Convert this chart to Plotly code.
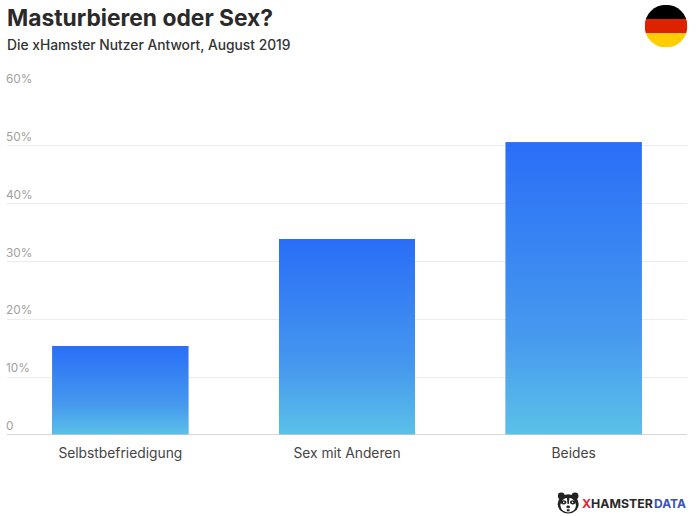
import base64
import plotly.graph_objects as go

categories = ["Selbstbefriedigung", "Sex mit Anderen", "Beides"]
values = [15.4, 33.9, 50.6]
tick_values = [0, 10, 20, 30, 40, 50, 60]
tick_labels = ["0", "10%", "20%", "30%", "40%", "50%", "60%"]
title = "Masturbieren oder Sex?"
subtitle = "Die xHamster Nutzer Antwort, August 2019"

W, H = 696, 516
L, R, T, B = 6.5, 8.5, 87.5, 80.5
FONT = "Inter, 'Open Sans', sans-serif"
BAR_W = 0.6
TOP_C, BOTTOM_C = "#2a6ef8", "#5bc1e8"

fig = go.Figure()
fig.add_trace(go.Bar(x=list(range(len(categories))), y=values, width=BAR_W,
                     marker=dict(color=TOP_C, line_width=0),
                     hoverinfo="skip", showlegend=False))
# vertical gradient painted over each bar
for i, v in enumerate(values):
    fig.add_trace(go.Scatter(
        x=[i - BAR_W / 2, i + BAR_W / 2, i + BAR_W / 2, i - BAR_W / 2, i - BAR_W / 2],
        y=[0, 0, v, v, 0], mode="lines", line=dict(width=0), fill="toself",
        fillgradient=dict(type="vertical",
                          colorscale=[[0, BOTTOM_C], [0.35, "#4598ee"], [1, TOP_C]]),
        hoverinfo="skip", showlegend=False))

fig.update_xaxes(range=[-0.5, 2.5], tickmode="array",
                 tickvals=list(range(len(categories))), ticktext=categories,
                 tickfont=dict(family=FONT, size=13.8, color="#444444"),
                 ticks="", ticklen=0, ticklabelstandoff=8, showgrid=False,
                 zeroline=False, showline=False)
fig.update_yaxes(range=[0, 60], tickmode="array", tickvals=tick_values,
                 showticklabels=False, ticks="", showgrid=True,
                 gridcolor="#ececec", gridwidth=1, zeroline=False)

for tv, tl in zip(tick_values, tick_labels):
    fig.add_annotation(xref="paper", yref="y", x=0, y=tv, text=tl, showarrow=False,
                       xanchor="left", yanchor="bottom", yshift=0, xshift=-3,
                       font=dict(family=FONT, size=11.8, color="#a0a0a0"))

fig.add_shape(type="line", xref="paper", yref="y", x0=0, x1=1, y0=0, y1=0,
              line=dict(color="#c9c9c9", width=1.5), layer="above")

def px(x): return (x - L) / (W - L - R)
def py(y): return 1 - (y - T) / (H - T - B)

fig.add_annotation(xref="paper", yref="paper", x=px(4), y=py(17), text=f"<b>{title}</b>",
                   showarrow=False, xanchor="left", yanchor="middle",
                   font=dict(family=FONT, size=22.8, color="#2a2a2a"))
fig.add_annotation(xref="paper", yref="paper", x=px(4), y=py(44), text=subtitle,
                   showarrow=False, xanchor="left", yanchor="middle",
                   font=dict(family=FONT, size=13.8, color="#333333", weight=500))

flag = ('<svg xmlns="http://www.w3.org/2000/svg" viewBox="0 0 100 100">'
        '<defs><clipPath id="c"><circle cx="50" cy="50" r="50"/></clipPath></defs>'
        '<g clip-path="url(#c)"><rect width="100" height="33.4" fill="#000"/>'
        '<rect y="33.3" width="100" height="33.4" fill="#dd2200"/>'
        '<rect y="66.6" width="100" height="33.4" fill="#ffce00"/></g></svg>')
logo = ('<svg xmlns="http://www.w3.org/2000/svg" viewBox="0 0 100 100">'
        '<circle cx="20" cy="20" r="15" fill="#222"/><circle cx="80" cy="20" r="15" fill="#222"/>'
        '<ellipse cx="50" cy="55" rx="46" ry="42" fill="#222"/>'
        '<ellipse cx="50" cy="60" rx="34" ry="32" fill="#fff"/>'
        '<path d="M44 22 L56 22 L53 55 L47 55 Z" fill="#222"/>'
        '<ellipse cx="30" cy="48" rx="12" ry="9" fill="#222"/>'
        '<ellipse cx="70" cy="48" rx="12" ry="9" fill="#222"/>'
        '<circle cx="31" cy="48" r="3.5" fill="#fff"/><circle cx="69" cy="48" r="3.5" fill="#fff"/>'
        '<ellipse cx="50" cy="68" rx="8" ry="6" fill="#222"/>'
        '<rect x="44" y="78" width="12" height="9" fill="#222"/></svg>')

def uri(s): return "data:image/svg+xml;base64," + base64.b64encode(s.encode()).decode()

fig.add_layout_image(source=uri(flag), xref="paper", yref="paper", x=px(645), y=py(4),
                     sizex=43 / (W - L - R), sizey=43 / (H - T - B),
                     xanchor="left", yanchor="top", layer="above")
fig.add_layout_image(source=uri(logo), xref="paper", yref="paper", x=px(557), y=py(492),
                     sizex=23 / (W - L - R), sizey=23 / (H - T - B),
                     xanchor="left", yanchor="top", layer="above")
fig.add_annotation(xref="paper", yref="paper", x=px(580), y=py(504),
                   text='<b><span style="color:#e0283c">X</span>HAMSTER</b>',
                   showarrow=False, xanchor="left", yanchor="middle",
                   font=dict(family=FONT, size=12.3, color="#2a2a2a"))
fig.add_annotation(xref="paper", yref="paper", x=px(689), y=py(504),
                   text='<b>DATA</b>', showarrow=False, xanchor="right", yanchor="middle",
                   font=dict(family=FONT, size=12, color="#3b52b4"))

fig.update_layout(width=W, height=H, margin=dict(l=L, r=R, t=T, b=B, pad=0),
                  plot_bgcolor="#ffffff", paper_bgcolor="#ffffff", barmode="overlay")

fig.write_html("out.html", post_script="document.body.style.margin='0';",
               config=dict(displayModeBar=False))
